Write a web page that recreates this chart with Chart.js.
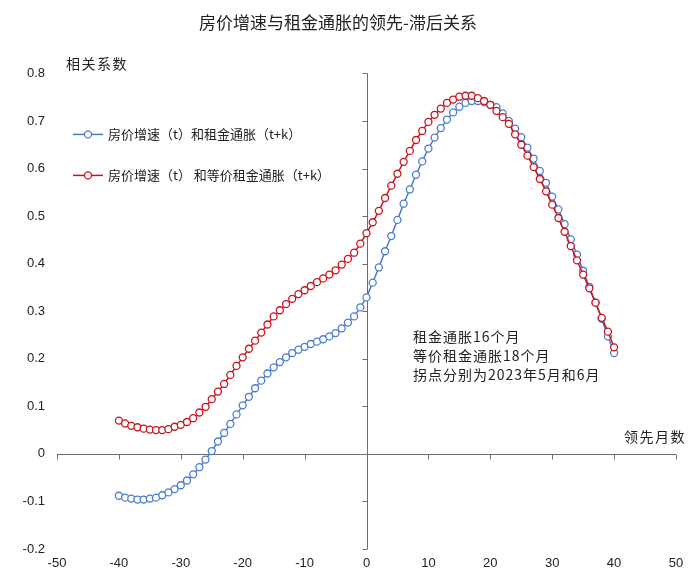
<!DOCTYPE html>
<html lang="zh-CN">
<head>
<meta charset="utf-8">
<title>房价增速与租金通胀的领先-滞后关系</title>
<script src="https://cdn.jsdelivr.net/npm/chart.js@4.4.1/dist/chart.umd.min.js"></script>
<style>
  html, body { margin: 0; padding: 0; background: #fff; }
  #wrap { width: 699px; height: 573px; }
</style>
</head>
<body>
<div id="wrap"><canvas id="leadLagChart"></canvas></div>
<script>
// lead months k (t+k)
const leadMonths = [
  -40, -39, -38, -37, -36, -35, -34, -33, -32, -31,
  -30, -29, -28, -27, -26, -25, -24, -23, -22, -21,
  -20, -19, -18, -17, -16, -15, -14, -13, -12, -11,
  -10, -9, -8, -7, -6, -5, -4, -3, -2, -1,
  0, 1, 2, 3, 4, 5, 6, 7, 8, 9,
  10, 11, 12, 13, 14, 15, 16, 17, 18, 19,
  20, 21, 22, 23, 24, 25, 26, 27, 28, 29,
  30, 31, 32, 33, 34, 35, 36, 37, 38, 39, 40
];

// correlation: house price growth (t) vs rent inflation (t+k)
const rentCorr = [
  -0.088, -0.092, -0.094, -0.096, -0.096, -0.094, -0.092, -0.087, -0.081, -0.074,
  -0.066, -0.056, -0.043, -0.028, -0.012, 0.006, 0.026, 0.044, 0.063, 0.083,
  0.102, 0.120, 0.138, 0.154, 0.169, 0.182, 0.193, 0.203, 0.212, 0.219,
  0.225, 0.231, 0.236, 0.241, 0.247, 0.254, 0.264, 0.276, 0.289, 0.308,
  0.329, 0.360, 0.392, 0.426, 0.458, 0.492, 0.526, 0.556, 0.587, 0.615,
  0.642, 0.665, 0.685, 0.703, 0.718, 0.730, 0.738, 0.742, 0.742, 0.739,
  0.734, 0.729, 0.716, 0.700, 0.684, 0.666, 0.644, 0.621, 0.595, 0.570,
  0.541, 0.514, 0.483, 0.451, 0.419, 0.385, 0.351, 0.318, 0.284, 0.247, 0.212
];

// correlation: house price growth (t) vs owners' equivalent rent (t+k)
const oerCorr = [
  0.070, 0.064, 0.059, 0.056, 0.053, 0.051, 0.050, 0.050, 0.052, 0.057,
  0.061, 0.067, 0.075, 0.087, 0.099, 0.115, 0.131, 0.147, 0.166, 0.185,
  0.203, 0.221, 0.238, 0.255, 0.272, 0.289, 0.302, 0.315, 0.326, 0.336,
  0.344, 0.353, 0.361, 0.369, 0.377, 0.386, 0.398, 0.410, 0.423, 0.442,
  0.464, 0.487, 0.511, 0.538, 0.564, 0.589, 0.614, 0.637, 0.660, 0.679,
  0.698, 0.713, 0.726, 0.738, 0.745, 0.751, 0.753, 0.753, 0.748, 0.742,
  0.734, 0.721, 0.708, 0.694, 0.672, 0.650, 0.627, 0.603, 0.578, 0.552,
  0.524, 0.496, 0.467, 0.437, 0.407, 0.377, 0.348, 0.318, 0.286, 0.257, 0.224
];

const seriesNames = ['房价增速（t）和租金通胀（t+k）', '房价增速（t） 和等价租金通胀（t+k）'];
const noteLines = ['租金通胀16个月', '等价租金通胀18个月', '拐点分别为2023年5月和6月'];

const blue = '#4a7cd1';
const red = '#c8141e';
const axisColor = '#6e6e6e';
const cjkFont = '"Noto Sans CJK SC", "Noto Sans", sans-serif';
const numFont = '"Liberation Sans", Arial, sans-serif';

// axes crossing at (0, 0) with small tick marks
const crossAxes = {
  id: 'crossAxes',
  beforeDatasetsDraw(chart) {
    const { ctx, chartArea, scales: { x, y } } = chart;
    const x0 = Math.round(x.getPixelForValue(0)) + 0.5;
    const y0 = Math.round(y.getPixelForValue(0)) + 0.5;
    ctx.save();
    ctx.strokeStyle = axisColor;
    ctx.lineWidth = 1;
    ctx.beginPath();
    ctx.moveTo(x0, chartArea.top);
    ctx.lineTo(x0, chartArea.bottom);
    ctx.moveTo(chartArea.left, y0);
    ctx.lineTo(chartArea.right, y0);
    y.ticks.forEach(t => {
      const py = Math.round(y.getPixelForValue(t.value)) + 0.5;
      ctx.moveTo(x0 - 5, py);
      ctx.lineTo(x0, py);
    });
    x.ticks.forEach(t => {
      const px = Math.round(x.getPixelForValue(t.value)) + 0.5;
      ctx.moveTo(px, y0);
      ctx.lineTo(px, y0 + 5);
    });
    ctx.stroke();
    ctx.restore();
  }
};

// axis titles, notes and the legend inside the plot
const overlayText = {
  id: 'overlayText',
  afterDatasetsDraw(chart) {
    const { ctx, chartArea, scales: { x, y } } = chart;
    ctx.save();
    ctx.fillStyle = '#222';
    ctx.textBaseline = 'middle';
    ctx.letterSpacing = '1.5px';
    ctx.font = '14px ' + cjkFont;

    ctx.textAlign = 'left';
    ctx.fillText('相关系数', chartArea.left + 9, chartArea.top - 10);
    ctx.textAlign = 'right';
    ctx.fillText('领先月数', chartArea.right + 10, y.getPixelForValue(0) - 17);

    // notes
    ctx.letterSpacing = '1px';
    ctx.textAlign = 'left';
    const noteX = x.getPixelForValue(7.5);
    noteLines.forEach((line, i) => {
      ctx.fillText(line, noteX, y.getPixelForValue(0.247) + i * 19);
    });

    // legend
    ctx.letterSpacing = '0px';
    ctx.font = '13px ' + cjkFont;
    chart.data.datasets.forEach((ds, i) => {
      const ly = chartArea.top + 61 + i * 41;
      const lx = chartArea.left + 16;
      ctx.strokeStyle = ds.borderColor;
      ctx.lineWidth = 1.5;
      ctx.beginPath();
      ctx.moveTo(lx, ly);
      ctx.lineTo(lx + 30, ly);
      ctx.stroke();
      ctx.beginPath();
      ctx.arc(lx + 15, ly, 3.5, 0, Math.PI * 2);
      ctx.fillStyle = '#fff';
      ctx.fill();
      ctx.lineWidth = 1.3;
      ctx.stroke();
      ctx.fillStyle = '#222';
      ctx.fillText(ds.label, lx + 35, ly);
    });
    ctx.restore();
  }
};

const ctxLead = document.getElementById('leadLagChart').getContext('2d');
const leadLagChart = new Chart(ctxLead, {
  type: 'line',
  data: {
    datasets: [
      {
        label: seriesNames[0],
        data: leadMonths.map((k, i) => ({ x: k, y: rentCorr[i] })),
        borderColor: blue,
        backgroundColor: '#fff',
        pointBackgroundColor: '#fff',
        pointBorderColor: blue,
        borderWidth: 1.5,
        pointRadius: 3.5,
        pointBorderWidth: 1.3,
        order: 1
      },
      {
        label: seriesNames[1],
        data: leadMonths.map((k, i) => ({ x: k, y: oerCorr[i] })),
        borderColor: red,
        backgroundColor: '#fff',
        pointBackgroundColor: '#fff',
        pointBorderColor: red,
        borderWidth: 1.5,
        pointRadius: 3.5,
        pointBorderWidth: 1.3,
        order: 0
      }
    ]
  },
  options: {
    responsive: true,
    maintainAspectRatio: false,
    animation: false,
    layout: { padding: { left: 0, right: 23, top: 0, bottom: 0 } },
    plugins: {
      legend: { display: false },
      tooltip: { enabled: false },
      title: {
        display: true,
        text: '房价增速与租金通胀的领先-滞后关系',
        color: '#222',
        font: { family: cjkFont, size: 17, weight: 'normal' },
        padding: { top: 12, bottom: 41 }
      }
    },
    scales: {
      x: {
        type: 'linear',
        min: -50,
        max: 50,
        grid: { display: false, drawTicks: false },
        border: { display: false },
        ticks: { stepSize: 10, color: '#222', padding: 7, font: { family: numFont, size: 13 } },
        afterFit: (scale) => { scale.height = 24; }
      },
      y: {
        min: -0.2,
        max: 0.8,
        grid: { display: false, drawTicks: false },
        border: { display: false },
        ticks: {
          stepSize: 0.1,
          color: '#222',
          padding: 12,
          font: { family: numFont, size: 13 },
          callback: (v) => (Math.abs(v) < 1e-9 ? '0' : v.toFixed(1))
        },
        afterFit: (scale) => { scale.width = 57; }
      }
    }
  },
  plugins: [crossAxes, overlayText]
});
</script>
</body>
</html>
